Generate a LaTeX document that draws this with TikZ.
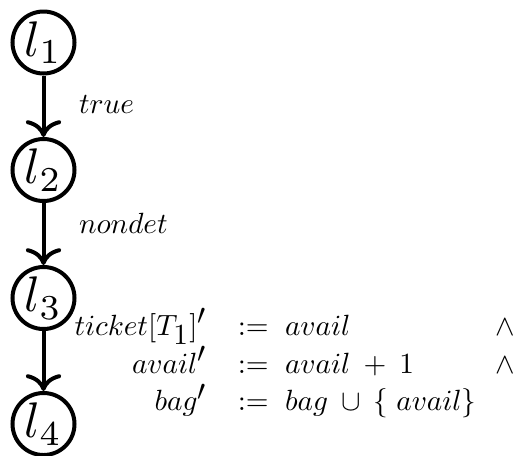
\documentclass[tikz,border=0pt]{standalone}
\usetikzlibrary{arrows.meta}
\DeclareMathSizes{10.2}{10.2}{10.2}{10.2}
\newcommand{\edgelbl}[1]{\scalebox{0.585}{\fontsize{10.2}{12.2}\selectfont\medmuskip=8mu #1}}
\begin{document}
\begin{tikzpicture}[x=0.2pt,y=-0.2pt,
  loc/.style={circle,draw,thick,minimum size=12.4pt,inner sep=0pt,font=\normalsize},
  trans/.style={->,thick},
  lbl/.style={inner sep=0pt,anchor=west}]
\useasboundingbox (0,0) rectangle (518,455);
\node[loc] (l1) at (43.5,42.5) {$l_1$};
\node[loc] (l2) at (43.5,170) {$l_2$};
\node[loc] (l3) at (43.5,298) {$l_3$};
\node[loc] (l4) at (43.5,424) {$l_4$};
\draw[trans] (l1) -- node[lbl,midway,xshift=6.7pt,yshift=0.3pt] {\edgelbl{$true$}} (l2);
\draw[trans] (l2) -- node[lbl,midway,xshift=6.7pt,yshift=2.1pt] {\edgelbl{$nondet$}} (l3);
\draw[trans] (l3) -- node[lbl,midway,xshift=5.8pt,yshift=-0.8pt] {\edgelbl{$\begin{array}{@{}r@{\hspace{10.5pt}}c@{\hspace{5.6pt}}l@{\hspace{6.5pt}}l@{}}
ticket[T_1]' & {:=} & avail & \wedge \\
avail' & {:=} & avail + 1 & \wedge \\
bag' & {:=} & bag \cup \{\mkern5mu avail\} &
\end{array}$}} (l4);
\end{tikzpicture}
\end{document}
